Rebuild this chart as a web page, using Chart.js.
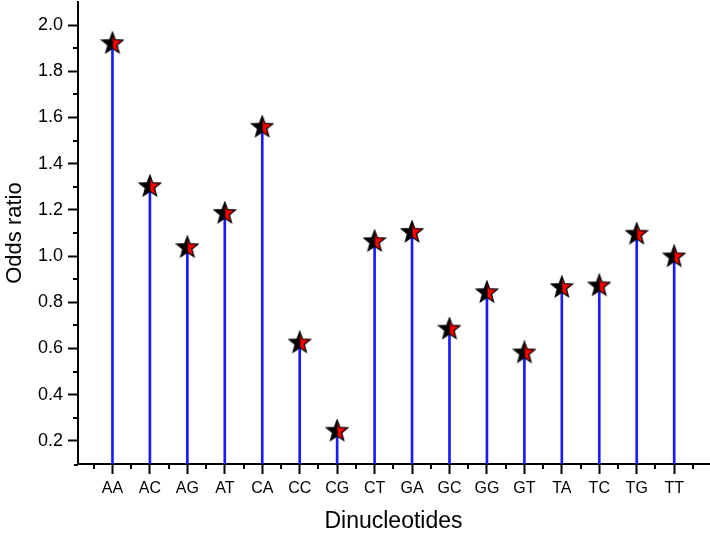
<!DOCTYPE html>
<html>
<head>
<meta charset="utf-8">
<script src="https://cdn.jsdelivr.net/npm/chart.js@4/dist/chart.umd.min.js"></script>
<style>
  body { margin: 0; background: #fff; }
</style>
</head>
<body>
<canvas id="chart" width="710" height="540"></canvas>
<script>
var categories = ['AA', 'AC', 'AG', 'AT', 'CA', 'CC', 'CG', 'CT', 'GA', 'GC', 'GG', 'GT', 'TA', 'TC', 'TG', 'TT'];
var oddsRatio = [1.922, 1.303, 1.039, 1.187, 1.560, 0.626, 0.244, 1.065, 1.105, 0.686, 0.844, 0.583, 0.866, 0.873, 1.097, 0.999];
var yTicks = [0.2, 0.4, 0.6, 0.8, 1.0, 1.2, 1.4, 1.6, 1.8, 2.0];
var yMin = 0.1, yMax = 2.1;

var FONT = 'Arial, "Liberation Sans", sans-serif';

// star marker: black left half, red right half, black outline
function makeStar() {
    var size = 24, c = size / 2, R = 11.2, r = 4.7;
    var cv = document.createElement('canvas');
    cv.width = size; cv.height = size;
    var g = cv.getContext('2d');
    function path() {
        g.beginPath();
        for (var i = 0; i < 10; i++) {
            var rad = i % 2 === 0 ? R : r;
            var a = -Math.PI / 2 + i * Math.PI / 5;
            var px = c + rad * Math.cos(a), py = c + 0.5 + rad * Math.sin(a);
            if (i === 0) g.moveTo(px, py); else g.lineTo(px, py);
        }
        g.closePath();
    }
    path();
    g.fillStyle = '#000';
    g.fill();
    g.save();
    g.beginPath();
    g.rect(c + 0.5, 0, size, size);
    g.clip();
    path();
    g.fillStyle = '#ff0000';
    g.fill();
    g.restore();
    path();
    g.lineWidth = 1.3;
    g.strokeStyle = '#000';
    g.stroke();
    return cv;
}

var minorTicks = {
    id: 'minorTicks',
    afterDraw: function (ch) {
        var ctx = ch.ctx, x = ch.scales.x, y = ch.scales.y;
        ctx.save();
        ctx.strokeStyle = '#000';
        ctx.lineWidth = 2;
        ctx.beginPath();
        // x axis line runs a little past the y axis, as in the original
        ctx.moveTo(x.left - 4, y.bottom + 1);
        ctx.lineTo(x.left, y.bottom + 1);
        for (var i = 0; i <= categories.length; i++) {
            var px = Math.round(x.getPixelForValue(i - 0.5));
            ctx.moveTo(px, y.bottom);
            ctx.lineTo(px, y.bottom + 5);
        }
        for (var j = 0; j < yTicks.length - 1; j++) {
            var py = Math.round(y.getPixelForValue(yTicks[j] + 0.1));
            ctx.moveTo(x.left, py);
            ctx.lineTo(x.left - 5, py);
        }
        ctx.stroke();
        ctx.restore();
    }
};

var points = categories.map(function (c, i) { return { x: i, y: oddsRatio[i] }; });

new Chart(document.getElementById('chart'), {
    type: 'bar',
    data: {
        datasets: [{
            type: 'line',
            data: points,
            showLine: false,
            pointStyle: makeStar(),
            pointRadius: 11,
            clip: false,
            order: 1
        }, {
            type: 'bar',
            data: points,
            base: yMin,
            barThickness: 2,
            backgroundColor: '#1a1aff',
            borderWidth: 0,
            order: 2
        }]
    },
    plugins: [minorTicks],
    options: {
        responsive: false,
        animation: false,
        layout: { autoPadding: false, padding: { top: 2, right: 1, left: 0, bottom: 0 } },
        plugins: { legend: { display: false }, tooltip: { enabled: false } },
        scales: {
            x: {
                type: 'linear',
                offset: false,
                min: -0.92,
                max: 15.93,
                afterBuildTicks: function (s) { s.ticks = categories.map(function (c, i) { return { value: i }; }); },
                afterFit: function (s) { s.height = 76; s.paddingLeft = 0; s.paddingRight = 0; },
                border: { color: '#000', width: 2 },
                grid: { offset: false, drawOnChartArea: false, tickLength: 10, tickColor: '#000', tickWidth: 2 },
                ticks: {
                    color: '#000', padding: 5, maxRotation: 0, autoSkip: false,
                    font: { family: FONT, size: 16 },
                    callback: function (v) { return categories[v]; }
                },
                title: {
                    display: true, text: 'Dinucleotides', color: '#000',
                    font: { family: FONT, size: 23 }, padding: { top: 0, bottom: 5 }
                }
            },
            y: {
                min: yMin,
                max: yMax,
                afterBuildTicks: function (s) { s.ticks = yTicks.map(function (v) { return { value: v }; }); },
                afterFit: function (s) { s.width = 78; s.paddingTop = 0; s.paddingBottom = 0; },
                border: { color: '#000', width: 2 },
                grid: { drawOnChartArea: false, tickLength: 10, tickColor: '#000', tickWidth: 2 },
                ticks: {
                    color: '#000', padding: 5,
                    font: { family: FONT, size: 18 },
                    callback: function (v) { return v.toFixed(1); }
                },
                title: {
                    display: true, text: 'Odds ratio', color: '#000',
                    font: { family: FONT, size: 22 }, padding: { top: 2, bottom: 0 }
                }
            }
        }
    }
});
</script>
</body>
</html>
